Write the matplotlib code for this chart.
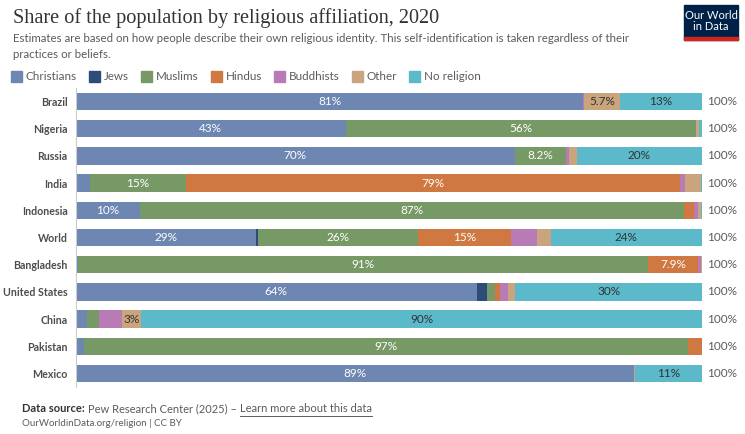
import matplotlib
matplotlib.use("Agg")
import matplotlib.pyplot as plt
import numpy as np
from matplotlib.patches import Rectangle

# data (percent of population, 2020)
countries = ["Brazil", "Nigeria", "Russia", "India", "Indonesia", "World",
             "Bangladesh", "United States", "China", "Pakistan", "Mexico"]
christians = [81.0, 43.1, 70.1, 2.3, 10.2, 28.8, 0.3, 64.0, 1.8, 1.2, 89.1]
jews = [0.0, 0.0, 0.0, 0.0, 0.0, 0.2, 0.0, 1.7, 0.0, 0.0, 0.0]
muslims = [0.05, 56.0, 8.2, 15.2, 86.9, 25.6, 91.1, 1.2, 1.8, 96.6, 0.0]
hindus = [0.0, 0.0, 0.0, 79.0, 1.6, 14.9, 7.9, 0.9, 0.0, 2.2, 0.0]
buddhists = [0.1, 0.0, 0.5, 0.8, 0.7, 4.1, 0.6, 1.2, 3.8, 0.0, 0.0]
other = [5.7, 0.5, 1.2, 2.5, 0.4, 2.2, 0.1, 1.2, 3.0, 0.0, 0.2]
no_religion = [13.1, 0.4, 20.0, 0.2, 0.2, 24.2, 0.0, 29.8, 89.6, 0.0, 10.7]

series_names = ["Christians", "Jews", "Muslims", "Hindus", "Buddhists", "Other", "No religion"]
series = [christians, jews, muslims, hindus, buddhists, other, no_religion]
colors = ["#6d86b2", "#2d4d78", "#779966", "#cf7842", "#b97bb6", "#c9a47c", "#5bb9c9"]
label_colors = ["white", "white", "white", "white", "white", "#333333", "#333333"]

W, H = 745, 434
fig = plt.figure(figsize=(W / 100, H / 100), dpi=100)
plt.rcParams['font.family'] = ['Lato', 'DejaVu Sans']


def fx(px):
    return px / W


def fy(py):
    return 1 - py / H


ax = fig.add_axes([fx(76), fy(387), fx(702) - fx(76), fy(88) - fy(387)])

y = np.arange(len(countries))
left = np.zeros(len(countries))


def fmt(v):
    if v >= 10:
        return f"{v:.0f}%"
    return f"{v:.2g}%"


for name, vals, col, tcol in zip(series_names, series, colors, label_colors):
    vals = np.array(vals)
    ax.barh(y, vals, left=left, height=0.64, color=col, linewidth=0)
    for i, v in enumerate(vals):
        lab = fmt(v)
        if v >= 5 or (v >= 2.9 and "." not in lab):
            ax.text(left[i] + v / 2, y[i], lab, ha="center", va="center",
                    color=tcol, fontsize=8.5)
    left += vals

for i, tot in enumerate(left):
    ax.text(100.8, y[i], f"{tot:.0f}%", ha="left", va="center", color="#5b5b5b",
            fontsize=8.5, clip_on=False)

ax.set_xlim(0, 100)
ax.set_ylim(len(countries) - 0.5, -0.5)
ax.set_yticks(y)
ax.set_yticklabels(countries, fontsize=7.7, fontweight="bold", color="#4d4d4d")
ax.tick_params(axis="y", length=0, pad=6)
ax.set_xticks([])
for s in ["top", "right", "bottom"]:
    ax.spines[s].set_visible(False)
ax.spines["left"].set_color("#cccccc")
ax.spines["left"].set_linewidth(0.8)

# title and subtitle
fig.text(fx(13), fy(18), "Share of the population by religious affiliation, 2020",
         family=["Liberation Serif", "DejaVu Serif"], fontsize=14.6, color="#333333",
         va="center", ha="left")
fig.text(fx(13), fy(39), "Estimates are based on how people describe their own religious identity. "
         "This self-identification is taken regardless of their", fontsize=8.3,
         color="#5b5b5b", va="center", ha="left")
fig.text(fx(13), fy(55), "practices or beliefs.", fontsize=8.3, color="#5b5b5b",
         va="center", ha="left")

# legend
renderer = fig.canvas.get_renderer()
xpos = 11
for name, col in zip(series_names, colors):
    fig.patches.append(Rectangle((fx(xpos), fy(82)), fx(11), 11 / H, color=col,
                                 transform=fig.transFigure))
    t = fig.text(fx(xpos + 15), fy(76), name, fontsize=8.4, color="#5b5b5b",
                 va="center", ha="left")
    bb = t.get_window_extent(renderer)
    xpos = xpos + 15 + bb.width + 12

# logo
fig.patches.append(Rectangle((fx(684), fy(40)), fx(54), 35 / H, color="#002147",
                             transform=fig.transFigure))
fig.patches.append(Rectangle((fx(684), fy(40)), fx(54), 3 / H, color="#ce261e",
                             transform=fig.transFigure))
fig.text(fx(711), fy(21), "Our World\nin Data", color="white", fontsize=8,
         ha="center", va="center", linespacing=1.0)

# footer
t1 = fig.text(fx(22), fy(409), "Data source:", fontsize=8, fontweight="bold",
              color="#333333", va="center", ha="left")
bb = t1.get_window_extent(renderer)
t2 = fig.text(fx(22) + bb.width / W + fx(3), fy(409), "Pew Research Center (2025) – ",
              fontsize=8, color="#5b5b5b", va="center", ha="left")
bb2 = t2.get_window_extent(renderer)
x3 = bb2.x1 / W
t3 = fig.text(x3, fy(409), "Learn more about this data", fontsize=8, color="#5b5b5b",
              va="center", ha="left")
bb3 = t3.get_window_extent(renderer)
fig.add_artist(plt.Line2D([x3, bb3.x1 / W], [fy(415.5), fy(415.5)], color="#5b5b5b",
                          linewidth=0.7, transform=fig.transFigure))
fig.text(fx(22), fy(423), "OurWorldinData.org/religion | CC BY", fontsize=7,
         color="#5b5b5b", va="center", ha="left")

fig.savefig("out.png", dpi=100, facecolor="white")
